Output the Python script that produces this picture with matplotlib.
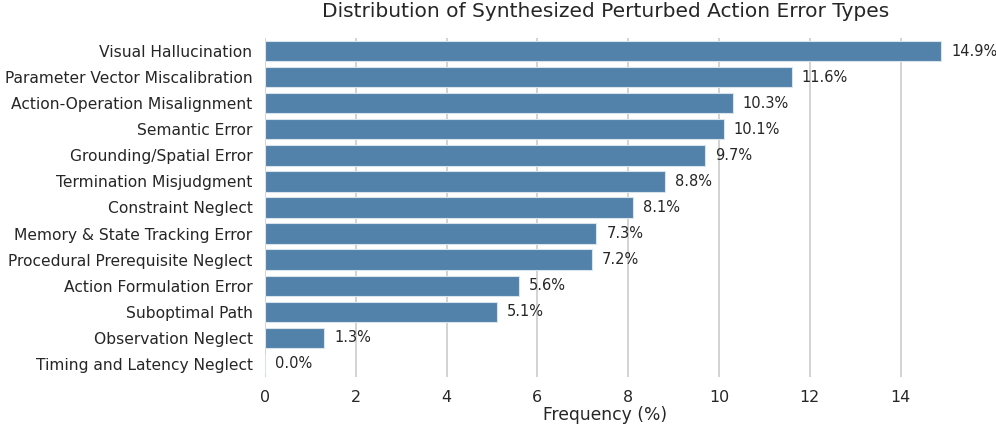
import numpy as np
import matplotlib.pyplot as plt

# error categories and their share (%)
categories = [
    "Visual Hallucination",
    "Parameter Vector Miscalibration",
    "Action-Operation Misalignment",
    "Semantic Error",
    "Grounding/Spatial Error",
    "Termination Misjudgment",
    "Constraint Neglect",
    "Memory & State Tracking Error",
    "Procedural Prerequisite Neglect",
    "Action Formulation Error",
    "Suboptimal Path",
    "Observation Neglect",
    "Timing and Latency Neglect",
]
frequency = [14.9, 11.6, 10.3, 10.1, 9.7, 8.8, 8.1, 7.3, 7.2, 5.6, 5.1, 1.3, 0.0]
x_ticks = [0, 2, 4, 6, 8, 10, 12, 14]

fig = plt.figure(figsize=(9.96, 4.28), dpi=100)
ax = fig.add_axes([265 / 996, 1 - 377 / 428, (946 - 265) / 996, (377 - 38) / 428])

y = np.arange(len(categories))
ax.barh(y, frequency, height=0.78, color="#5281a9", edgecolor="#d9e3ec", linewidth=0.8, zorder=2)

for yi, v in zip(y, frequency):
    ax.text(v + 0.22, yi, f"{v:.1f}%", va="center", ha="left", fontsize=10.5, color="#262626")

ax.set_ylim(len(categories) - 0.5, -0.5)
ax.set_xlim(0, 15.0)
ax.set_yticks(y)
ax.set_yticklabels(categories, fontsize=11.2, color="#262626")
ax.set_xticks(x_ticks)
ax.set_xticklabels([str(t) for t in x_ticks], fontsize=11.4, color="#262626")
ax.tick_params(axis="y", length=0, pad=9)
ax.tick_params(axis="x", length=0, pad=9)

ax.grid(axis="x", color="#cccccc", linewidth=1.2, zorder=0)
ax.set_axisbelow(True)
for s in ax.spines.values():
    s.set_visible(False)

ax.set_xlabel("Frequency (%)", fontsize=12.3, color="#262626", labelpad=1)
ax.set_title("Distribution of Synthesized Perturbed Action Error Types", fontsize=14.5, color="#262626", pad=15)

fig.savefig("out.png", dpi=100)
